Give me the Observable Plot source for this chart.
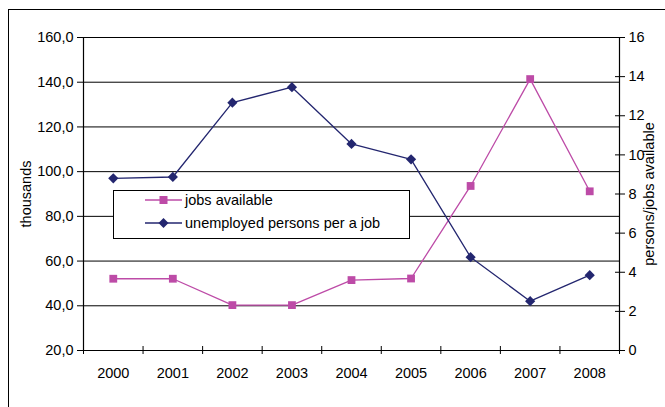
<!DOCTYPE html>
<html>
<head>
<meta charset="utf-8">
<script src="https://cdn.jsdelivr.net/npm/d3@7"></script>
<script src="https://cdn.jsdelivr.net/npm/@observablehq/plot@0.6"></script>
<style>
  html, body { margin: 0; padding: 0; background: #fff; }
  #wrap { position: relative; width: 665px; height: 407px; overflow: hidden;
          font-family: "Liberation Sans", Arial, sans-serif; }
  #border { position: absolute; left: 8px; top: 9px; width: 700px; height: 450px;
            border-left: 1px solid #000; border-top: 1px solid #000; }
  #chart { position: absolute; left: 0; top: 0; }
  #chart svg { background: transparent; }
  #legend { position: absolute; left: 113px; top: 190px; width: 295px; height: 47px;
            border: 1px solid #000; background: #fff; font-size: 14.5px; color: #000; }
  .row { position: absolute; left: 31px; height: 16px; display: flex; align-items: center; white-space: nowrap; }
  .row svg { margin-right: 3px; }
</style>
</head>
<body>
<div id="wrap">
  <div id="border"></div>
  <div id="chart"></div>
  <div id="legend"></div>
</div>
<script>
// Annual figures
const years = [2000, 2001, 2002, 2003, 2004, 2005, 2006, 2007, 2008];
const jobsAvailable = [52.1, 52.1, 40.3, 40.3, 51.5, 52.2, 93.6, 141.4, 91.2];   // thousands
const personsPerJob = [8.80, 8.87, 12.67, 13.46, 10.56, 9.77, 4.77, 2.52, 3.85];  // unemployed persons per job

// Axis ticks
const leftTicks = [20, 40, 60, 80, 100, 120, 140, 160];
const rightTicks = [0, 2, 4, 6, 8, 10, 12, 14, 16];

// Series names
const seriesNames = ["jobs available", "unemployed persons per a job"];

const pink = "#BD4BA7";
const navy = "#23266F";
const font = '"Liberation Sans", Arial, sans-serif';

const leftDomain = [leftTicks[0], leftTicks[leftTicks.length - 1]];
const rightDomain = [rightTicks[0], rightTicks[rightTicks.length - 1]];
// secondary axis values expressed on the primary y scale
const toPrimary = v => leftDomain[0] +
  (v - rightDomain[0]) * (leftDomain[1] - leftDomain[0]) / (rightDomain[1] - rightDomain[0]);
const rightLabel = new Map(rightTicks.map(v => [toPrimary(v), String(v)]));

const rows = years.map((year, i) => ({year, jobs: jobsAvailable[i], ratio: personsPerJob[i]}));
const xDomain = [years[0] - 0.5, years[years.length - 1] + 0.5];
const bounds = d3.range(years.length + 1).map(i => xDomain[0] + i);

const chart = Plot.plot({
  width: 665,
  height: 407,
  marginTop: 37,
  marginBottom: 57,
  marginLeft: 83,
  marginRight: 46,
  style: {fontFamily: font, fontSize: "14.5px", color: "#000", background: "transparent", overflow: "visible"},
  x: {domain: xDomain},
  y: {domain: leftDomain},
  marks: [
    Plot.gridY(leftTicks.slice(1), {stroke: "#000", strokeOpacity: 1, strokeWidth: 1}),
    Plot.ruleY([leftDomain[0]], {stroke: "#000", strokeWidth: 1.2}),
    Plot.ruleX(xDomain, {stroke: "#000", strokeWidth: 1.2}),
    Plot.axisY(leftTicks, {
      anchor: "left", tickSize: 6, tickPadding: 4,
      tickFormat: d => d.toFixed(1).replace(".", ","),
      label: "thousands", labelAnchor: "center", labelOffset: 63, labelArrow: false
    }),
    Plot.axisY(rightTicks.map(toPrimary), {
      anchor: "right", tickSize: 5, tickPadding: 4,
      tickFormat: d => rightLabel.get(d),
      label: "persons/jobs available", labelAnchor: "center", labelOffset: 34, labelArrow: false
    }),
    Plot.axisY(rightTicks.map(toPrimary), {anchor: "right", tickSize: -5, tickFormat: () => "", label: null}),
    Plot.axisX(bounds, {anchor: "bottom", tickSize: 4, tickFormat: () => "", label: null}),
    Plot.axisX(bounds, {anchor: "bottom", tickSize: -4, tickFormat: () => "", label: null}),
    Plot.axisX(years, {anchor: "bottom", tickSize: 0, tickPadding: 17, tickFormat: d => String(d), label: null}),
    Plot.line(rows, {x: "year", y: "jobs", stroke: pink, strokeWidth: 1.3}),
    Plot.dot(rows, {x: "year", y: "jobs", symbol: "square", r: 4.4, fill: pink, stroke: "none"}),
    Plot.line(rows, {x: "year", y: d => toPrimary(d.ratio), stroke: navy, strokeWidth: 1.3}),
    Plot.dot(rows, {x: "year", y: d => toPrimary(d.ratio), symbol: "diamond2", r: 4.6, fill: navy, stroke: "none"})
  ]
});
document.getElementById("chart").appendChild(chart);

// Legend: line sample with marker, then the series name
const legend = document.getElementById("legend");
const samples = [
  {color: pink, marker: '<rect x="14.5" y="4" width="8" height="8"/>'},
  {color: navy, marker: '<path d="M18.5,3 L23.5,8 L18.5,13 L13.5,8 Z"/>'}
];
seriesNames.forEach((name, i) => {
  const row = document.createElement("div");
  row.className = "row";
  row.style.top = (i === 0 ? 1 : 24) + "px";
  row.innerHTML =
    `<svg width="37" height="16"><line x1="0" x2="37" y1="8" y2="8" stroke="${samples[i].color}" stroke-width="1.3"/>` +
    `<g fill="${samples[i].color}">${samples[i].marker}</g></svg><span>${name}</span>`;
  legend.appendChild(row);
});
</script>
</body>
</html>
